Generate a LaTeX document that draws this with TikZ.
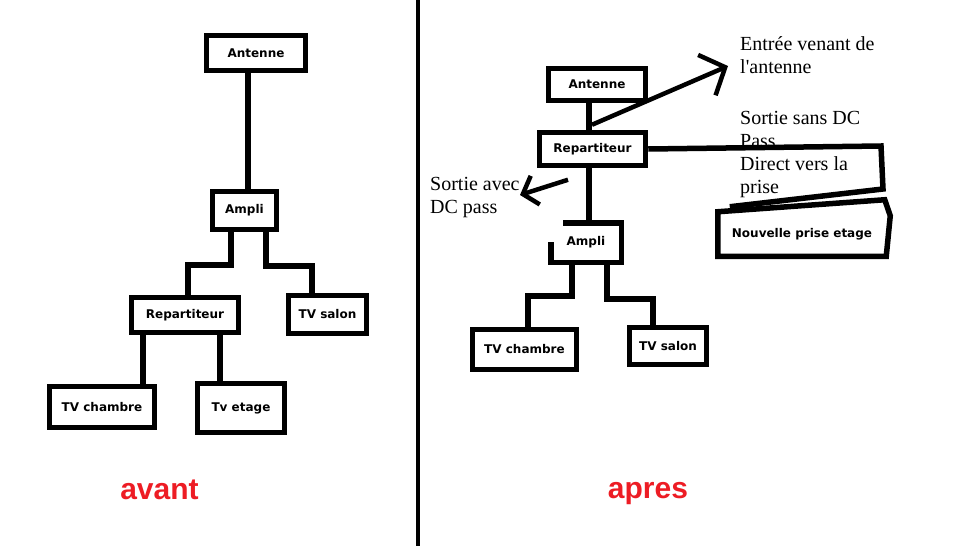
\documentclass[tikz,border=0pt]{standalone}
\usepackage{fontspec}
\setmainfont{Liberation Serif}
\newfontfamily\boxfont{DejaVu Sans}
\newfontfamily\titlefont{Liberation Sans}
\usetikzlibrary{arrows.meta, positioning, calc}
\definecolor{paintred}{RGB}{237,28,36}

\begin{document}
\begin{tikzpicture}[
    x=1pt, y=-1pt,
    box/.style={draw=black, line width=5.5pt, inner sep=0pt, font=\boxfont\bfseries\fontsize{12}{14}\selectfont},
    wire/.style={line width=5.5pt},
    pointer/.style={line width=4.5pt, -{Straight Barb[length=20pt, width=44pt]}},
    note/.style={anchor=base west, align=left, inner sep=0pt, font=\fontsize{20}{23}\selectfont},
    title/.style={text=paintred, font=\titlefont\bfseries\fontsize{30}{36}\selectfont}
]
\useasboundingbox (0,0) rectangle (963,546);

% divider
\draw[line width=4pt] (418,0) -- (418,546);

% avant
\node[box, minimum width=99, minimum height=35] (antA) at (256,53) {Antenne};
\node[box, minimum width=64, minimum height=38] (ampA) at (244.5,210.5) {Ampli};
\node[box, minimum width=107, minimum height=35] (repA) at (185,315) {Repartiteur};
\node[box, minimum width=78, minimum height=38] (salA) at (327.5,314.5) {TV salon};
\node[box, minimum width=105, minimum height=41] (chaA) at (102,407) {TV chambre};
\node[box, minimum width=87, minimum height=49] (etaA) at (241,408) {Tv etage};

\draw[wire] ([xshift=-8]antA.south) -- ([xshift=3.5]ampA.north);
\draw[wire] ([xshift=-13.5]ampA.south) -- ++(0,32.5) -| ([xshift=3]repA.north);
\draw[wire] ([xshift=21.5]ampA.south) -- ++(0,33.5) -| ([xshift=-15.5]salA.north);
\draw[wire] ([xshift=-42]repA.south) -- ([xshift=41]chaA.north);
\draw[wire] ([xshift=35]repA.south) -- ([xshift=-21]etaA.north);

% apres
\node[box, minimum width=97, minimum height=32] (antB) at (597,84.5) {Antenne};
\node[box, minimum width=106, minimum height=33] (repB) at (592.5,149) {Repartiteur};
\node[box, draw=none, minimum width=65, minimum height=34] (ampB) at (586,242.5) {Ampli};
\node[box, minimum width=104, minimum height=40] (chaB) at (524.5,349.5) {TV chambre};
\node[box, minimum width=77, minimum height=37] (salB) at (668,346) {TV salon};
\node[box, draw=none, minimum width=163, minimum height=39] (nouB) at (802,234) {Nouvelle prise etage};

% hand drawn outlines
\draw[wire] ([xshift=12.5]ampB.north west) -- (ampB.north east) -- (ampB.south east)
    -- (ampB.south west) -- ([yshift=-19]ampB.north west);
\draw[wire] (nouB.south west) -- (nouB.north west) -- ([xshift=-1.5,yshift=12]nouB.north east)
    -- ([xshift=4,yshift=-4]nouB.north east) -- (nouB.south east) -- cycle;

\draw[wire] ([xshift=-8]antB.south) -- ([xshift=-3.5]repB.north);
\draw[wire] ([xshift=-3.5]repB.south) -- ([xshift=3]ampB.north);
\draw[wire] ([xshift=-14]ampB.south) -- ++(0,33.5) -| ([xshift=3.5]chaB.north);
\draw[wire] ([xshift=21]ampB.south) -- ++(0,36.5) -| ([xshift=-15]salB.north);

% sortie sans DC pass
\coordinate (bendA) at (881,146);
\coordinate (bendB) at (883,189);
\draw[wire] (repB.east) -- (bendA) -- (bendB) -- ([xshift=12,yshift=5]nouB.north west);

% arrows
\coordinate (entree) at (728,66);
\coordinate (dcpass) at (520,195);
\draw[pointer] ([xshift=-0.5,yshift=5]repB.north) -- (entree);
\draw[pointer, -{Straight Barb[length=13pt, width=30pt]}] ([xshift=-24.5,yshift=-11.5]repB.south) -- (dcpass);

% notes (base = last line)
\node[note] (entreeNote) at (740,73) {Entrée venant de\\l\textquotesingle antenne};
\node[note] (sansNote) at (740,193) {Sortie sans DC\\Pass.\\Direct vers la\\prise};
\node[note] (avecNote) at (430,213) {Sortie avec\\DC pass};

% titles
\node[title] (avant) at (159.5,490) {avant};
\node[title] (apres) at (648,494) {apres};

\end{tikzpicture}
\end{document}
